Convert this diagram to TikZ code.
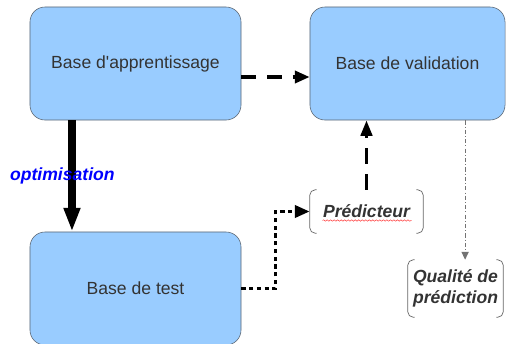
\documentclass[tikz,border=0pt]{standalone}
\usepackage{fontspec}
\setmainfont{Liberation Sans}[Ligatures=TeXOff]
\usetikzlibrary{arrows.meta,calc,decorations.pathmorphing}
\definecolor{baseblue}{HTML}{99CCFF}
\definecolor{baseedge}{HTML}{5A6470}
\definecolor{basetext}{HTML}{333333}
\tikzset{
	basebox/.style={draw=baseedge, fill=baseblue, rounded corners=0.375cm, minimum width=5.275cm, minimum height=2.825cm, text=basetext, font=\fontsize{12.5}{15}\selectfont},
	bracketed/.style={text=basetext, align=center, font=\fontsize{12.5}{15}\selectfont\bfseries\itshape},
	bracketline/.style={draw=black!60, line width=0.5pt, rounded corners=4pt},
	spellmark/.style={draw=red!80, line width=0.35pt, decorate, decoration={snake, amplitude=0.5pt, segment length=2.5pt}}
}

\begin{document}
\begin{tikzpicture}[x=0.025cm, y=-0.025cm]
			%%%%% START %%%%%
			\useasboundingbox (0,0) rectangle (506,343);
			
			\node[basebox] (appr) at (135.5, 63.5) {Base d'apprentissage};
			\node[basebox, minimum width=4.875cm] (valid) at (407.5, 63.5) {Base de validation};
			\node[basebox] (test) at (135.5, 288.5) {Base de test};
			
			\node[bracketed, minimum width=2.825cm, minimum height=1.075cm] (pred) at (366.5, 211.5) {Prédicteur};
			\node[bracketed, minimum width=2.375cm, minimum height=1.425cm] (qual) at (455.5, 288.5) {Qualité de\\prédiction};
			
			% brackets round the two text nodes
			\draw[bracketline] ([xshift=5pt]pred.north west) -- (pred.north west) -- (pred.south west) -- ([xshift=5pt]pred.south west);
			\draw[bracketline] ([xshift=-5pt]pred.north east) -- (pred.north east) -- (pred.south east) -- ([xshift=-5pt]pred.south east);
			\draw[bracketline] ([xshift=5pt]qual.north west) -- (qual.north west) -- (qual.south west) -- ([xshift=5pt]qual.south west);
			\draw[bracketline] ([xshift=-5pt]qual.north east) -- (qual.north east) -- (qual.south east) -- ([xshift=-5pt]qual.south east);
			\draw[spellmark] ($(pred.center)+(-44, 9)$) -- ($(pred.center)+(45, 9)$);
			
			\draw[line width=2.5pt, dash pattern=on 10.5pt off 7.8pt, -{Triangle[length=10.5pt, width=8.5pt]}] ([yshift=-0.3375cm]appr.east) -- ([yshift=-0.3375cm]valid.west);
			
			\draw[line width=5pt, -{Triangle[length=17pt, width=11pt]}] ([xshift=-1.5875cm]appr.south) -- ([xshift=-1.5875cm]test.north)
				node[midway, xshift=-0.24cm, text=blue, font=\fontsize{12.5}{15}\selectfont\bfseries\itshape] {optimisation};
			
			\draw[line width=2.5pt, dash pattern=on 11pt off 7.5pt, -{Triangle[length=11pt, width=8pt]}] (pred.north) -- (pred.north |- valid.south);
			
			\draw[line width=2.5pt, dash pattern=on 3pt off 2.5pt, -{Triangle[length=10.5pt, width=8.5pt]}] (test.east) -| ($(test.east)!.5!(pred.west)$) |- (pred.west);
			
			\draw[draw=black!55, line width=0.7pt, dash pattern=on 3pt off 1.5pt on 0.7pt off 1.5pt, -{Triangle[length=5.5pt, width=5pt]}] ([xshift=0.24cm]qual.north |- valid.south) -- ([xshift=0.24cm]qual.north);
			%%%%% END %%%%%
\end{tikzpicture}
\end{document}
